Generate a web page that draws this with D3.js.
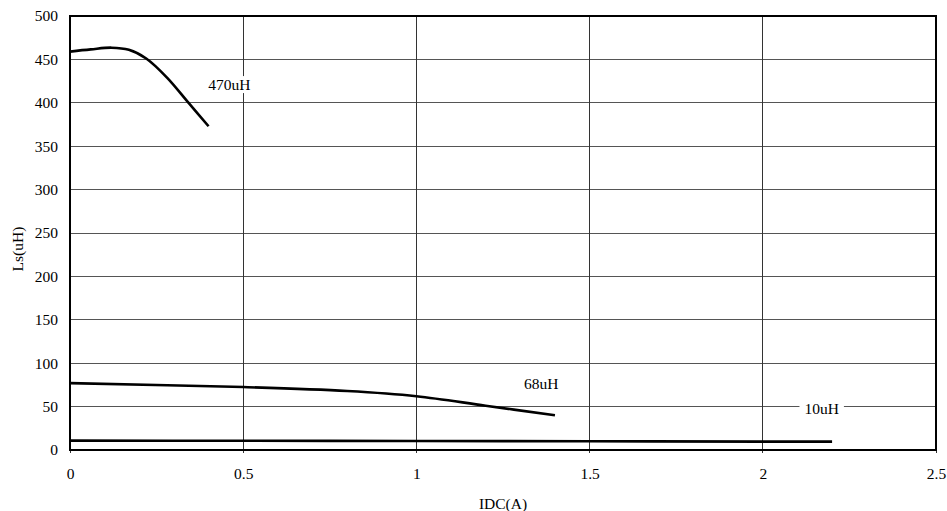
<!DOCTYPE html>
<html><head><meta charset="utf-8">
<script src="https://cdn.jsdelivr.net/npm/d3@7"></script>
<style>body{margin:0;background:#fff}svg{display:block}text{font-family:"Liberation Serif","Times New Roman",serif;}</style>
</head><body><svg id="c" width="947" height="511"></svg>
<script>
const xTicks = [0, 0.5, 1, 1.5, 2, 2.5];
const yTicks = [0, 50, 100, 150, 200, 250, 300, 350, 400, 450, 500];
const s470x = [0, 0.06, 0.12, 0.17, 0.22, 0.28, 0.34, 0.4];
const s470y = [459, 461.5, 463.5, 461, 451, 429, 401, 373];
const s68x = [0, 0.5, 0.8, 1.0, 1.2, 1.4];
const s68y = [77, 72.5, 68, 62, 51, 40];
const s10x = [0, 0.5, 1.0, 1.5, 2.0, 2.2];
const s10y = [10.8, 10.6, 10.4, 10.1, 9.7, 9.6];
const labels = [
  {t:"470uH", x:0.46, y:421},
  {t:"68uH", x:1.36, y:77},
  {t:"10uH", x:2.17, y:48}
];

const svg = d3.select("#c");
const L=70, R=936, T=16, B=450;
const x = d3.scaleLinear().domain([0,2.5]).range([L,R]);
const y = d3.scaleLinear().domain([0,500]).range([B,T]);
const fs = "15.5px";

const g = svg.append("g");
g.selectAll(".hg").data(yTicks).enter().append("line")
  .attr("x1",L).attr("x2",R).attr("y1",d=>y(d)).attr("y2",d=>y(d))
  .attr("stroke","#555").attr("stroke-width",1).attr("shape-rendering","crispEdges");
g.selectAll(".vg").data(xTicks).enter().append("line")
  .attr("y1",T).attr("y2",B+3).attr("x1",d=>x(d)).attr("x2",d=>x(d))
  .attr("stroke","#333").attr("stroke-width",1).attr("shape-rendering","crispEdges");

const xa = svg.append("g").attr("transform",`translate(0,${B})`)
  .call(d3.axisBottom(x).tickValues(xTicks).tickSize(0).tickPadding(18).tickFormat(d3.format("")));
const ya = svg.append("g").attr("transform",`translate(${L},0)`)
  .call(d3.axisLeft(y).tickValues(yTicks).tickSize(0).tickPadding(12));
[xa,ya].forEach(a=>{a.select(".domain").remove();a.selectAll("text").attr("font-size",fs).attr("fill","#000");});

const line = d3.line().x(d=>x(d[0])).y(d=>y(d[1])).curve(d3.curveCatmullRom.alpha(0.5));
[[s470x,s470y],[s68x,s68y],[s10x,s10y]].forEach(([xs,ys])=>{
  svg.append("path").datum(xs.map((v,i)=>[v,ys[i]])).attr("d",line)
    .attr("fill","none").attr("stroke","#000").attr("stroke-width",2.6).attr("stroke-linejoin","round");
});

svg.append("rect").attr("x",L).attr("y",T).attr("width",R-L).attr("height",B-T)
  .attr("fill","none").attr("stroke","#000").attr("stroke-width",2);

labels.forEach(l=>{
  const t = svg.append("text").attr("x",x(l.x)).attr("y",y(l.y)).attr("text-anchor","middle")
    .attr("dominant-baseline","central").attr("font-size",fs).text(l.t);
  const bb = t.node().getBBox();
  svg.insert("rect", function(){return t.node();}).attr("x",bb.x-5).attr("y",bb.y).attr("width",bb.width+10).attr("height",bb.height).attr("fill","#fff");
});

svg.append("text").attr("x",503).attr("y",503).attr("text-anchor","middle").attr("dominant-baseline","central").attr("font-size",fs).text("IDC(A)");
svg.append("text").attr("transform","translate(17,249) rotate(-90)").attr("text-anchor","middle").attr("dominant-baseline","central").attr("font-size",fs).text("Ls(uH)");
</script></body></html>
